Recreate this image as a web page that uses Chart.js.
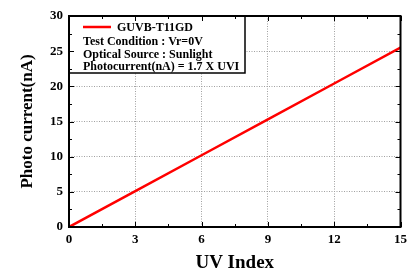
<!DOCTYPE html>
<html>
<head>
<meta charset="utf-8">
<script src="https://cdn.jsdelivr.net/npm/chart.js@4"></script>
<style>
  html, body { margin: 0; padding: 0; background: #fff; }
  #wrap { width: 412px; height: 273px; }
</style>
</head>
<body>
<div id="wrap"><canvas id="c" width="412" height="273"></canvas></div>
<script>
// values
const uvIndex = [0, 3, 6, 9, 12, 15]
const photoCurrent = [0, 5.1, 10.2, 15.3, 20.4, 25.5]
const xTicks = [0, 3, 6, 9, 12, 15]
const yTicks = [0, 5, 10, 15, 20, 25, 30]
const legendLines = ['Test Condition : Vr=0V', 'Optical Source : Sunlight', 'Photocurrent(nA) = 1.7 X UVI']
const seriesName = 'GUVB-T11GD'

const serif = '"Liberation Serif", "Times New Roman", serif'

// frame, inward ticks on all sides, legend box
const framePlugin = {
  id: 'frame',
  beforeDatasetsDraw(chart) {
    const { ctx, chartArea: a } = chart
    const x0 = a.left, y0 = a.top
    ctx.save()
    ctx.fillStyle = '#fff'
    ctx.fillRect(x0, y0, 176, 57)
    ctx.strokeStyle = '#000'
    ctx.lineWidth = 1.5
    ctx.strokeRect(x0, y0, 176, 57)
    ctx.strokeStyle = '#ff0000'
    ctx.lineWidth = 2.5
    ctx.beginPath()
    ctx.moveTo(x0 + 14, y0 + 11)
    ctx.lineTo(x0 + 42, y0 + 11)
    ctx.stroke()
    ctx.fillStyle = '#000'
    ctx.font = 'bold 12px ' + serif
    ctx.textBaseline = 'middle'
    ctx.fillText(seriesName, x0 + 48, y0 + 12)
    legendLines.forEach((t, i) => ctx.fillText(t, x0 + 14, y0 + 26 + i * 12.5))
    ctx.restore()
  },
  afterDraw(chart) {
    const { ctx, chartArea: a, scales } = chart
    const xs = scales.x, ys = scales.y
    ctx.save()
    ctx.strokeStyle = '#000'
    ctx.lineWidth = 1
    ctx.beginPath()
    for (let v = 0; v <= 15; v += 1.5) {
      const px = Math.round(xs.getPixelForValue(v)) + 0.5
      const len = (v % 3 === 0) ? 5 : 3
      ctx.moveTo(px, a.bottom); ctx.lineTo(px, a.bottom - len)
      ctx.moveTo(px, a.top); ctx.lineTo(px, a.top + len)
    }
    for (let v = 0; v <= 30; v += 2.5) {
      const py = Math.round(ys.getPixelForValue(v)) + 0.5
      const len = (v % 5 === 0) ? 5 : 3
      ctx.moveTo(a.left, py); ctx.lineTo(a.left + len, py)
      ctx.moveTo(a.right, py); ctx.lineTo(a.right - len, py)
    }
    ctx.stroke()
    ctx.lineWidth = 2
    ctx.strokeRect(a.left, a.top, a.right - a.left, a.bottom - a.top)
    ctx.restore()
  }
}

new Chart(document.getElementById('c'), {
  type: 'line',
  data: {
    datasets: [{
      label: seriesName,
      data: uvIndex.map((x, i) => ({ x: x, y: photoCurrent[i] })),
      borderColor: '#ff0000',
      borderWidth: 2.5,
      pointRadius: 0,
      tension: 0
    }]
  },
  options: {
    responsive: false,
    animation: false,
    layout: { padding: { left: 0, right: 11, top: 16, bottom: 0 } },
    plugins: { legend: { display: false }, tooltip: { enabled: false } },
    scales: {
      x: {
        type: 'linear', min: 0, max: 15,
        afterBuildTicks: s => { s.ticks = xTicks.map(v => ({ value: v })) },
        afterFit: s => { s.height = 46 },
        border: { display: false, dash: [1, 1.5] },
        grid: { color: '#a0a0a0', lineWidth: 1, drawTicks: false },
        ticks: { color: '#000', padding: 5, font: { family: serif, size: 13, weight: 'bold' } },
        title: { display: true, text: 'UV Index', color: '#000', padding: { top: 0, bottom: -1 }, font: { family: serif, size: 19, weight: 'bold' } }
      },
      y: {
        min: 0, max: 30,
        afterBuildTicks: s => { s.ticks = yTicks.map(v => ({ value: v })) },
        afterFit: s => { s.width = 69 },
        border: { display: false, dash: [1, 1.5] },
        grid: { color: '#a0a0a0', lineWidth: 1, drawTicks: false },
        ticks: { color: '#000', padding: 6, font: { family: serif, size: 13, weight: 'bold' } },
        title: { display: true, text: 'Photo current(nA)', color: '#000', padding: { top: 17, bottom: 0 }, font: { family: serif, size: 17, weight: 'bold' } }
      }
    }
  },
  plugins: [framePlugin]
})
</script>
</body>
</html>
